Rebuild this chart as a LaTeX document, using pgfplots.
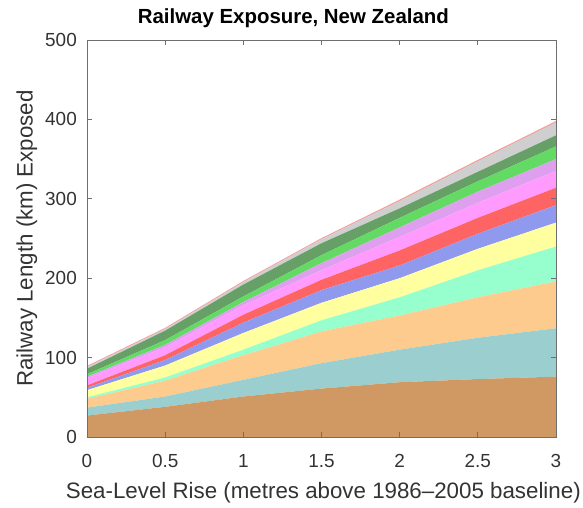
\documentclass[border=0pt]{standalone}
\usepackage{fontspec}
\setmainfont{Liberation Sans}
\usepackage{pgfplots}
\pgfplotsset{compat=1.18}
\usepackage{pgfplotstable}

% Layer thicknesses (km of railway exposed) for each band, bottom to top
\pgfplotstableread{
x    brown teal peach mint yellow blue red pink purple green dkgreen gray top
0.0  27    10   11    2    9      3    3   9    2      3     7       2    1.5
0.5  38    13   20    4    15     7    6   10   3      6     12      2    1.5
1.0  51    21   31    7    21     13   10  12   4      7     15      3    1.5
1.5  61    32   40    14   22     16   13  12   9      10    15      5    1.5
2.0  69    41   43    23   24     16   19  17   12     12    12      9    2
2.5  73    52   51    34   27     19   20  19   14     13    12      13   2
3.0  76    61   59    44   30     22   22  21   15     16    14      16   2
}\layers

\definecolor{cBrown}{RGB}{208,152,98}
\definecolor{cTeal}{RGB}{155,207,207}
\definecolor{cPeach}{RGB}{253,203,142}
\definecolor{cMint}{RGB}{150,255,205}
\definecolor{cYellow}{RGB}{255,255,160}
\definecolor{cBlue}{RGB}{143,153,238}
\definecolor{cRed}{RGB}{255,100,100}
\definecolor{cPink}{RGB}{255,155,255}
\definecolor{cPurple}{RGB}{222,160,238}
\definecolor{cGreen}{RGB}{99,218,99}
\definecolor{cDkGreen}{RGB}{102,160,102}
\definecolor{cGray}{RGB}{207,207,207}
\definecolor{cTop}{RGB}{244,160,160}
\definecolor{axisgray}{RGB}{110,110,110}

\begin{document}
\begin{tikzpicture}
\path[use as bounding box] (0,0) rectangle (583bp,508bp);
\begin{axis}[
  at={(87bp,71bp)}, anchor=south west,
  scale only axis,
  width=469bp, height=397bp,
  xmin=0, xmax=3, ymin=0, ymax=500,
  xtick={0,0.5,...,3}, ytick={0,100,...,500},
  xticklabels={0,0.5,1,1.5,2,2.5,3},
  tick align=inside,
  major tick length=5bp,
  axis line style={axisgray, line width=1pt},
  every tick/.style={axisgray, line width=0.8pt},
  tick label style={font=\fontsize{19}{22}\selectfont, text=black!80},
  /pgf/number format/assume math mode=true,
  xticklabel style={anchor=center, yshift=-24bp},
  yticklabel style={anchor=east, inner sep=0pt, xshift=-10bp},
  xlabel={Sea-Level Rise (metres above 1986--2005 baseline)},
  ylabel={Railway Length (km) Exposed},
  label style={font=\fontsize{22.4}{25}\selectfont, text=black!80},
  xlabel style={at={(axis description cs:0.504,-0.14)}, anchor=center},
  ylabel style={at={(axis description cs:-0.128,0.5)}, anchor=center, rotate=0},
  title={Railway Exposure, New Zealand},
  title style={font=\bfseries\fontsize{20.5}{24}\selectfont, at={(axis description cs:0.44,1.04)}, anchor=center},
  stack plots=y,
  axis on top,
  clip=true,
]
\addplot[fill=cBrown, draw=none] table[x=x, y=brown]{\layers} \closedcycle;
\addplot[fill=cTeal, draw=none] table[x=x, y=teal]{\layers} \closedcycle;
\addplot[fill=cPeach, draw=none] table[x=x, y=peach]{\layers} \closedcycle;
\addplot[fill=cMint, draw=none] table[x=x, y=mint]{\layers} \closedcycle;
\addplot[fill=cYellow, draw=none] table[x=x, y=yellow]{\layers} \closedcycle;
\addplot[fill=cBlue, draw=none] table[x=x, y=blue]{\layers} \closedcycle;
\addplot[fill=cRed, draw=none] table[x=x, y=red]{\layers} \closedcycle;
\addplot[fill=cPink, draw=none] table[x=x, y=pink]{\layers} \closedcycle;
\addplot[fill=cPurple, draw=none] table[x=x, y=purple]{\layers} \closedcycle;
\addplot[fill=cGreen, draw=none] table[x=x, y=green]{\layers} \closedcycle;
\addplot[fill=cDkGreen, draw=none] table[x=x, y=dkgreen]{\layers} \closedcycle;
\addplot[fill=cGray, draw=none] table[x=x, y=gray]{\layers} \closedcycle;
\addplot[fill=cTop, draw=none] table[x=x, y=top]{\layers} \closedcycle;
\end{axis}
\end{tikzpicture}
\end{document}
